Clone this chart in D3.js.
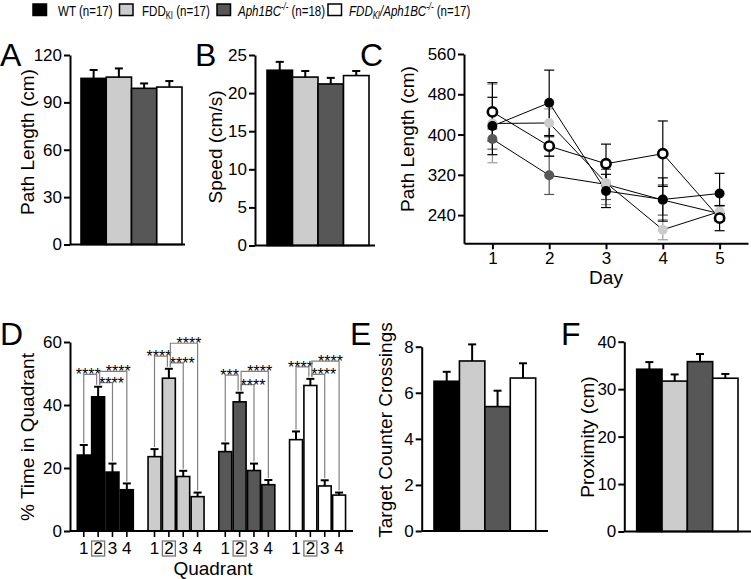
<!DOCTYPE html>
<html><head><meta charset="utf-8">
<script src="https://cdn.jsdelivr.net/npm/d3@7"></script>
<style>
body{margin:0;background:#fff}
svg{display:block;font-family:"Liberation Sans",Arial,Helvetica,sans-serif}
</style></head><body>
<svg id="c" width="751" height="579"></svg>
<script>
// ---------------- DATA ----------------
const groups = ["WT", "FDD_KI", "Aph1BC-/-", "FDD_KI/Aph1BC-/-"];
const groupN = [17, 17, 18, 17];

const pathLengthMean = [105.2, 106.0, 98.9, 99.7];
const pathLengthSem  = [5.3, 5.5, 3.1, 3.8];
const pathLengthTicks = [0, 30, 60, 90, 120];

const speedMean = [23.0, 22.1, 21.2, 22.3];
const speedSem  = [1.1, 0.8, 0.8, 0.6];
const speedTicks = [0, 5, 10, 15, 20, 25];

const days = [1, 2, 3, 4, 5];
const dayPathWT       = [417, 463, 288, 271, 283];
const dayPathWTSem    = [57, 65, 33, 43, 40];
const dayPathFDD      = [422, 423, 304, 211, 247];
const dayPathFDDSem   = [78, 28, 43, 20, 12];
const dayPathAph      = [391, 319, 301, 270, 243];
const dayPathAphSem   = [20, 38, 30, 30, 15];
const dayPathFDDAph   = [445, 377, 342, 362, 234];
const dayPathFDDAphSem= [58, 20, 39, 65, 25];
const dayPathTicks = [240, 320, 400, 480, 560];

const quadrants = ["1", "2", "3", "4"];
const targetQuadrant = "2";
const quadTimeWT        = [24.1, 42.6, 18.7, 13.1];
const quadTimeWTSem     = [3.2, 3.2, 2.7, 2.0];
const quadTimeFDD       = [23.6, 48.5, 17.3, 10.9];
const quadTimeFDDSem    = [2.4, 3.0, 1.8, 1.3];
const quadTimeAph       = [25.2, 41.0, 19.2, 14.7];
const quadTimeAphSem    = [2.6, 2.9, 2.2, 1.5];
const quadTimeFDDAph    = [29.0, 46.2, 14.3, 11.4];
const quadTimeFDDAphSem = [2.6, 2.1, 1.8, 0.8];
const quadTimeTicks = [0, 20, 40, 60];

// significance comparisons (quadrant pairs) per genotype, bracket level in % units
const sigPairs = [["1","2"], ["2","3"], ["2","4"]];
const sigLabels = [
  ["****", "****", "****"],
  ["****", "****", "****"],
  ["***",  "****", "****"],
  ["****", "****", "****"]
];
const sigLevels = [
  [49.7, 47.1, 50.7],
  [55.5, 53.4, 59.6],
  [49.5, 46.5, 50.7],
  [52.1, 49.7, 53.9]
];

const crossingsMean = [6.5, 7.38, 5.4, 6.64];
const crossingsSem  = [0.41, 0.72, 0.69, 0.64];
const crossingsTicks = [0, 2, 4, 6, 8];

const proximityMean = [34.2, 31.7, 35.8, 32.3];
const proximitySem  = [1.5, 1.4, 1.6, 0.9];
const proximityTicks = [0, 10, 20, 30, 40];

// ---------------- STYLE ----------------
const fills = ["#000000", "#cccccc", "#575757", "#ffffff"];
const svg = d3.select("#c");
const TICKFS = 17, TITLEFS = 19, LETTERFS = 32;

function styleAxis(g){
  g.select(".domain").attr("stroke","#000").attr("stroke-width",2);
  g.selectAll(".tick line").attr("stroke","#000").attr("stroke-width",2);
  g.selectAll(".tick text").attr("fill","#000").attr("font-size",TICKFS)
    .attr("font-family",'"Liberation Sans",Arial,sans-serif');
}
function yTitle(x, y, txt, fs){
  svg.append("text").attr("transform",`translate(${x},${y}) rotate(-90)`)
    .attr("text-anchor","middle").attr("dy","0.35em").attr("font-size",fs||TITLEFS).text(txt);
}
function letter(x, y, txt){
  svg.append("text").attr("x",x).attr("y",y).attr("font-size",LETTERFS).text(txt);
}

// simple bar panel
function barPanel(o){
  const y = d3.scaleLinear().domain([0, o.max]).range([o.yBase, o.yTop]);
  const x = d3.scaleBand().domain(groups).range([o.bx0, o.bx1]).padding(0);
  const g = svg.append("g");
  g.selectAll("rect").data(groups).join("rect")
    .attr("x", d => x(d)).attr("width", x.bandwidth())
    .attr("y", (d,i) => y(o.mean[i])).attr("height", (d,i) => y(0) - y(o.mean[i]))
    .attr("fill", (d,i) => fills[i]).attr("stroke","#000").attr("stroke-width",1.6);
  const eb = g.selectAll("g.eb").data(groups).join("g").attr("class","eb");
  eb.append("line").attr("x1", d => x(d)+x.bandwidth()/2).attr("x2", d => x(d)+x.bandwidth()/2)
    .attr("y1",(d,i)=>y(o.mean[i])).attr("y2",(d,i)=>y(o.mean[i]+o.sem[i]))
    .attr("stroke","#000").attr("stroke-width",2);
  eb.append("line").attr("x1", d => x(d)+x.bandwidth()/2-4).attr("x2", d => x(d)+x.bandwidth()/2+4)
    .attr("y1",(d,i)=>y(o.mean[i]+o.sem[i])).attr("y2",(d,i)=>y(o.mean[i]+o.sem[i]))
    .attr("stroke","#000").attr("stroke-width",2);
  const ax = svg.append("g").attr("transform",`translate(${o.ax},0)`)
    .call(d3.axisLeft(y).tickValues(o.ticks).tickSize(6).tickSizeOuter(0).tickPadding(2));
  styleAxis(ax);
  svg.append("line").attr("x1",o.ax).attr("x2",o.xEnd).attr("y1",y(0)).attr("y2",y(0))
    .attr("stroke","#000").attr("stroke-width",2);
}

// ---------------- LEGEND ----------------
const legendSq = [33, 119.5, 217, 328];
const legendTx = [58, 142, 238, 349];
groups.forEach((gname,i)=>{
  svg.append("rect").attr("x",legendSq[i]).attr("y",4).attr("width",13.5).attr("height",11.5)
    .attr("fill",fills[i]).attr("stroke","#000").attr("stroke-width",1.5);
});
function legText(i, build){
  const t = svg.append("text").attr("transform",`translate(${legendTx[i]},15.5) scale(0.77,1)`)
    .attr("font-size",15);
  build(t);
}
legText(0, t => t.append("tspan").text(`WT (n=${groupN[0]})`));
legText(1, t => {
  t.append("tspan").text("FDD");
  t.append("tspan").attr("font-size",10).attr("dy",3).text("KI");
  t.append("tspan").attr("dy",-3).text(` (n=${groupN[1]})`);
});
legText(2, t => {
  t.append("tspan").attr("font-style","italic").text("Aph1BC");
  t.append("tspan").attr("font-style","italic").attr("font-size",10).attr("dy",-6).text("-/-");
  t.append("tspan").attr("dy",6).text(` (n=${groupN[2]})`);
});
legText(3, t => {
  t.append("tspan").attr("font-style","italic").text("FDD");
  t.append("tspan").attr("font-style","italic").attr("font-size",10).attr("dy",3).text("KI");
  t.append("tspan").attr("font-style","italic").attr("dy",-3).text("/Aph1BC");
  t.append("tspan").attr("font-style","italic").attr("font-size",10).attr("dy",-6).text("-/-");
  t.append("tspan").attr("dy",6).text(` (n=${groupN[3]})`);
});

// ---------------- PANEL A ----------------
letter(0, 66, "A");
barPanel({mean:pathLengthMean, sem:pathLengthSem, max:120, ticks:pathLengthTicks,
  yBase:244.5, yTop:55, bx0:81, bx1:182, ax:70, xEnd:185});
yTitle(27, 142, "Path Length (cm)");

// ---------------- PANEL B ----------------
letter(195, 66, "B");
barPanel({mean:speedMean, sem:speedSem, max:25, ticks:speedTicks,
  yBase:245.5, yTop:55, bx0:267, bx1:369, ax:255, xEnd:375});
yTitle(215, 147, "Speed (cm/s)");

// ---------------- PANEL C ----------------
letter(360, 66, "C");
{
  const x = d3.scaleLinear().domain([0.5, 5.5]).range([464, 748]);
  const y = d3.scaleLinear().domain([184, 560]).range([243.3, 54]);
  const series = [
    {m:dayPathAph, e:dayPathAphSem, fill:"#575757", ec:"#555555", open:false},
    {m:dayPathFDD, e:dayPathFDDSem, fill:"#cccccc", ec:"#999999", open:false},
    {m:dayPathWT, e:dayPathWTSem, fill:"#000000", ec:"#000000", open:false},
    {m:dayPathFDDAph, e:dayPathFDDAphSem, fill:"#ffffff", ec:"#000000", open:true}
  ];
  const g = svg.append("g");
  series.forEach(s=>{
    const eg = g.append("g");
    eg.selectAll("line.v").data(days).join("line").attr("class","v")
      .attr("x1",d=>x(d)).attr("x2",d=>x(d))
      .attr("y1",(d,i)=>y(s.m[i]-s.e[i])).attr("y2",(d,i)=>y(s.m[i]+s.e[i]))
      .attr("stroke",s.ec).attr("stroke-width",1.2);
    [-1,1].forEach(sg=>{
      eg.selectAll("line.c"+(sg+1)).data(days).join("line").attr("class","c"+(sg+1))
        .attr("x1",d=>x(d)-5).attr("x2",d=>x(d)+5)
        .attr("y1",(d,i)=>y(s.m[i]+sg*s.e[i])).attr("y2",(d,i)=>y(s.m[i]+sg*s.e[i]))
        .attr("stroke",s.ec).attr("stroke-width",1.2);
    });
  });
  const line = d3.line().x(d=>x(d[0])).y(d=>y(d[1]));
  series.forEach(s=>{
    g.append("path").attr("d", line(days.map((d,i)=>[d,s.m[i]])))
      .attr("fill","none").attr("stroke","#000").attr("stroke-width",1);
  });
  series.forEach(s=>{
    g.selectAll(null).data(days).join("circle")
      .attr("cx",d=>x(d)).attr("cy",(d,i)=>y(s.m[i]))
      .attr("r", s.open?4.6:5)
      .attr("fill",s.fill)
      .attr("stroke", s.open?"#000":"none").attr("stroke-width", s.open?2.6:0);
  });
  const ay = svg.append("g").attr("transform","translate(464,0)")
    .call(d3.axisLeft(y).tickValues(dayPathTicks).tickSize(6).tickSizeOuter(0).tickPadding(2));
  styleAxis(ay);
  const axx = svg.append("g").attr("transform","translate(0,243.3)")
    .call(d3.axisBottom(x).tickValues(days).tickFormat(d3.format("d")).tickSize(6).tickSizeOuter(0).tickPadding(3));
  styleAxis(axx);
  svg.append("text").attr("x",606).attr("y",284).attr("text-anchor","middle").attr("font-size",TITLEFS).text("Day");
  yTitle(407, 139, "Path Length (cm)");
}

// ---------------- PANEL D ----------------
letter(0, 345, "D");
{
  const means = [quadTimeWT, quadTimeFDD, quadTimeAph, quadTimeFDDAph];
  const sems  = [quadTimeWTSem, quadTimeFDDSem, quadTimeAphSem, quadTimeFDDAphSem];
  const y = d3.scaleLinear().domain([0, 60]).range([531, 342]);
  const xg = d3.scaleBand().domain(groups).range([77.3, 77.3 + 4*70.75]).padding(0);
  const xq = d3.scaleBand().domain(quadrants).range([0, 56]).paddingInner(0.1).paddingOuter(0);
  const cx = (gi, q) => xg(groups[gi]) + xq(q) + xq.bandwidth()/2;
  const g = svg.append("g");
  groups.forEach((gn, gi)=>{
    const gg = g.append("g");
    gg.selectAll("rect").data(quadrants).join("rect")
      .attr("x", q => xg(gn) + xq(q)).attr("width", xq.bandwidth())
      .attr("y", (q,i)=>y(means[gi][i])).attr("height",(q,i)=>y(0)-y(means[gi][i]))
      .attr("fill", fills[gi]).attr("stroke","#000").attr("stroke-width",1.6);
    gg.selectAll("line.v").data(quadrants).join("line").attr("class","v")
      .attr("x1",q=>cx(gi,q)).attr("x2",q=>cx(gi,q))
      .attr("y1",(q,i)=>y(means[gi][i])).attr("y2",(q,i)=>y(means[gi][i]+sems[gi][i]))
      .attr("stroke","#000").attr("stroke-width",2);
    gg.selectAll("line.c").data(quadrants).join("line").attr("class","c")
      .attr("x1",q=>cx(gi,q)-4).attr("x2",q=>cx(gi,q)+4)
      .attr("y1",(q,i)=>y(means[gi][i]+sems[gi][i])).attr("y2",(q,i)=>y(means[gi][i]+sems[gi][i]))
      .attr("stroke","#000").attr("stroke-width",2);
    // x ticks
    gg.selectAll("line.t").data(quadrants).join("line").attr("class","t")
      .attr("x1",q=>cx(gi,q)).attr("x2",q=>cx(gi,q)).attr("y1",y(0)).attr("y2",y(0)+6)
      .attr("stroke","#000").attr("stroke-width",1.6);
    gg.selectAll("text.ql").data(quadrants).join("text").attr("class","ql")
      .attr("x",q=>cx(gi,q)).attr("y",554).attr("text-anchor","middle")
      .attr("font-size",17).text(q=>q);
    gg.append("rect").attr("x",cx(gi,targetQuadrant)-6.5).attr("y",541).attr("width",13).attr("height",15)
      .attr("fill","none").attr("stroke","#777").attr("stroke-width",1.3);
    // significance brackets
    sigPairs.forEach((p, pi)=>{
      const i1 = quadrants.indexOf(p[0]), i2 = quadrants.indexOf(p[1]);
      const lv = y(sigLevels[gi][pi]);
      const xa = cx(gi,p[0]) + (p[0]===targetQuadrant ? 1.5 : 0);
      const xb = cx(gi,p[1]) - (p[1]===targetQuadrant ? 1.5 : 0);
      const ya = y(means[gi][i1]+sems[gi][i1]) - 2;
      const yb = y(means[gi][i2]+sems[gi][i2]) - 2;
      gg.append("path").attr("d",`M${xa},${ya}V${lv}H${xb}V${yb}`)
        .attr("fill","none").attr("stroke","#808080").attr("stroke-width",1.2);
      let lx = (xa+xb)/2;
      if (pi===0) lx -= 2; else if (pi===1) lx = xb - 1; else lx += 5;
      gg.append("text").attr("x",lx).attr("y",lv+6).attr("text-anchor","middle")
        .attr("font-size",16).attr("fill","#000").text(sigLabels[gi][pi]);
    });
  });
  const ay = svg.append("g").attr("transform","translate(70,0)")
    .call(d3.axisLeft(y).tickValues(quadTimeTicks).tickSize(6).tickSizeOuter(0).tickPadding(2));
  styleAxis(ay);
  svg.append("line").attr("x1",70).attr("x2",353).attr("y1",y(0)).attr("y2",y(0))
    .attr("stroke","#000").attr("stroke-width",2);
  svg.append("text").attr("x",213).attr("y",575).attr("text-anchor","middle").attr("font-size",19).text("Quadrant");
  yTitle(27, 437, "% Time in Quadrant");
}

// ---------------- PANEL E ----------------
letter(350, 345, "E");
barPanel({mean:crossingsMean, sem:crossingsSem, max:8, ticks:crossingsTicks,
  yBase:531, yTop:346.7, bx0:434, bx1:535.7, ax:421.7, xEnd:548});
yTitle(385, 430, "Target Counter Crossings");

// ---------------- PANEL F ----------------
letter(561, 345, "F");
barPanel({mean:proximityMean, sem:proximitySem, max:40, ticks:proximityTicks,
  yBase:531.5, yTop:341.7, bx0:636.7, bx1:738, ax:624.3, xEnd:751});
yTitle(587, 437, "Proximity (cm)");
</script>
</body></html>
